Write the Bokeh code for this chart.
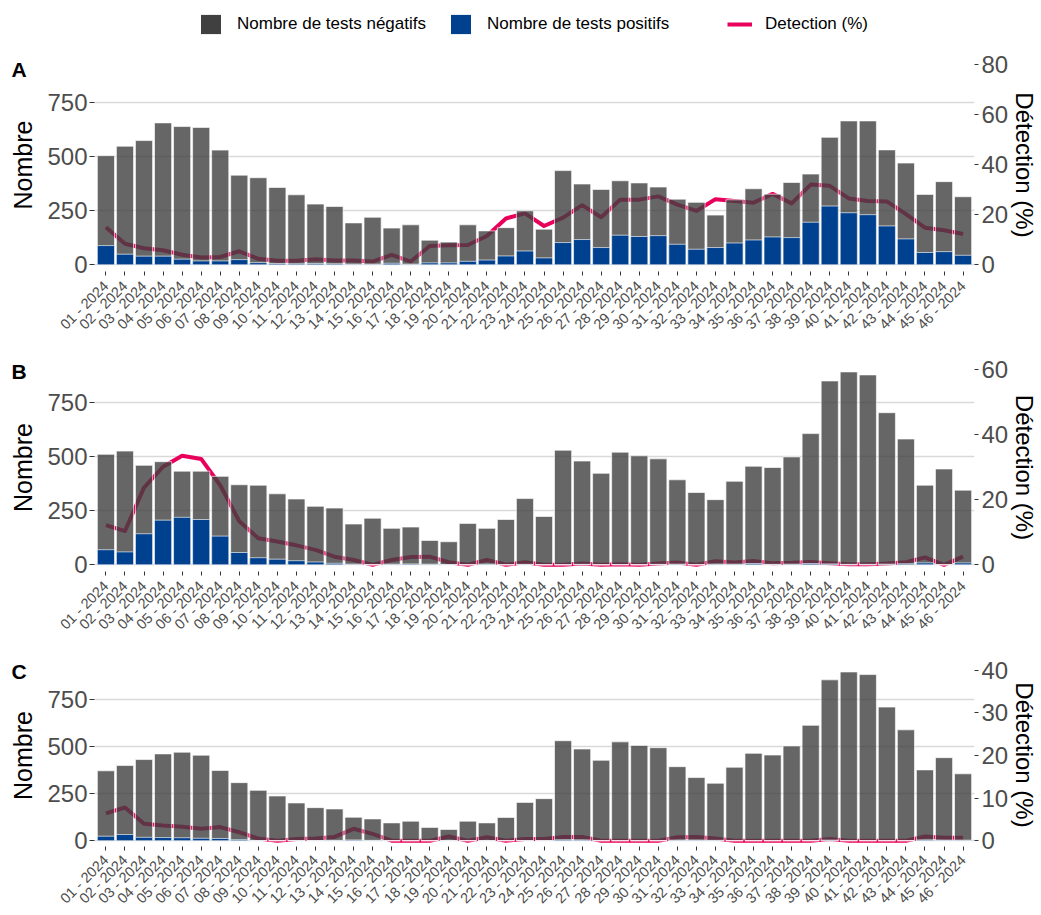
import math
from bokeh.plotting import figure
from bokeh.models import Range1d, LinearAxis, FixedTicker, Legend, LegendItem
from bokeh.core.properties import value
from bokeh.layouts import column, row
from bokeh.embed import file_html
from bokeh.resources import INLINE

# ---------------- data ----------------
weeks = [f"{i:02d} - 2024" for i in range(1, 47)]
x_pos = list(range(1, len(weeks) + 1))

count_ticks = [0, 250, 500, 750]
panel_letters = ["A", "B", "C"]
y_title = "Nombre"
y2_title = "Détection (%)"

# Panel A
neg_A = [505, 549, 575, 657, 640, 636, 531, 415, 403, 358, 324, 281, 270, 194, 220, 170,
         185, 114, 105, 185, 157, 172, 250, 165, 436, 374, 349, 389, 379, 360, 304, 289,
         230, 301, 352, 327, 381, 420, 590, 666, 666, 532, 471, 326, 385, 315]
pos_A = [89, 49, 40, 40, 26, 18, 18, 24, 10, 6, 5, 6, 5, 3, 3, 7,
         3, 9, 9, 16, 22, 41, 64, 32, 103, 117, 80, 137, 131, 135, 95, 72,
         80, 101, 115, 129, 126, 197, 272, 241, 232, 180, 120, 57, 61, 44]
det_A = [15.0, 8.4, 6.6, 5.8, 4.0, 2.9, 3.1, 5.4, 2.4, 1.6, 1.6, 2.2, 1.7, 1.7, 1.3, 4.0,
         1.3, 7.5, 7.8, 7.9, 11.5, 18.5, 20.5, 15.5, 18.8, 23.8, 19.0, 26.0, 26.0, 27.3, 24.0, 21.5,
         26.2, 25.5, 24.8, 28.3, 24.5, 32.0, 31.5, 26.5, 25.5, 25.3, 20.2, 14.8, 13.8, 12.3]
pct_ticks_A = [0, 20, 40, 60, 80]

# Panel B
neg_B = [512, 527, 461, 478, 434, 434, 410, 371, 369, 329, 305, 271, 263, 189, 216, 169,
         175, 113, 107, 192, 169, 210, 307, 224, 531, 481, 424, 522, 505, 491, 394, 335,
         302, 387, 457, 451, 500, 608, 852, 894, 880, 705, 583, 369, 444, 346]
pos_B = [70, 60, 144, 207, 220, 210, 133, 57, 33, 26, 19, 13, 7, 3, 0, 3,
         4, 3, 1, 0, 3, 0, 2, 0, 0, 2, 0, 1, 0, 2, 3, 0,
         3, 3, 6, 2, 3, 6, 4, 2, 2, 3, 5, 9, 0, 9]
det_B = [12.2, 10.4, 23.8, 30.2, 33.6, 32.6, 24.5, 13.4, 8.2, 7.2, 6.0, 4.6, 2.5, 1.5, 0.0, 1.5,
         2.4, 2.5, 0.8, 0.0, 1.5, 0.0, 0.8, 0.0, 0.0, 0.4, 0.0, 0.2, 0.0, 0.4, 0.7, 0.0,
         1.1, 0.7, 1.2, 0.5, 0.6, 0.9, 0.5, 0.2, 0.2, 0.4, 0.8, 2.3, 0.0, 2.5]
pct_ticks_B = [0, 20, 40, 60]

# Panel C
neg_C = [372, 400, 432, 462, 471, 455, 374, 309, 268, 238, 201, 176, 169, 125, 116, 95,
         104, 71, 60, 104, 95, 124, 204, 224, 532, 488, 428, 526, 507, 495, 394, 336,
         306, 391, 465, 456, 504, 614, 856, 898, 884, 711, 590, 377, 442, 356]
pos_C = [24, 33, 18, 17, 16, 13, 12, 6, 1, 0, 1, 1, 2, 4, 2, 0,
         0, 0, 1, 0, 1, 0, 1, 1, 5, 4, 0, 0, 0, 0, 3, 3,
         2, 0, 0, 0, 0, 0, 3, 0, 0, 0, 0, 4, 3, 3]
det_C = [6.4, 7.8, 4.0, 3.6, 3.3, 2.8, 3.2, 2.0, 0.5, 0.0, 0.4, 0.5, 0.9, 2.8, 1.6, 0.0,
         0.0, 0.0, 1.0, 0.0, 0.8, 0.0, 0.4, 0.4, 0.9, 0.9, 0.0, 0.0, 0.0, 0.0, 0.8, 0.9,
         0.5, 0.0, 0.0, 0.0, 0.0, 0.0, 0.4, 0.0, 0.0, 0.0, 0.0, 1.0, 0.7, 0.7]
pct_ticks_C = [0, 10, 20, 30, 40]

legend_labels = ["Nombre de tests négatifs", "Nombre de tests positifs", "Detection (%)"]

# ---------------- style / layout ----------------
FONT = "Liberation Sans"
GRAY = "#404040"
BLUE = "#00418F"
PINK = "#E8005A"
TICK_COL = "#4D4D4D"
TOTAL_W, TOTAL_H = 1041, 915
S = 38                    # left strip (panel letters + y titles)
W = TOTAL_W - S
BL, BR = 94 - S, 66

H_LEG = 48
geom = [(302, 10, 79), (300, 13, 79), (265, 13, 68)]   # height, top border, bottom border


def style_axis(ax, size="24px"):
    ax.axis_line_color = None
    ax.major_tick_line_color = "#333333"
    ax.major_tick_in = 0
    ax.major_tick_out = 5
    ax.minor_tick_line_color = None
    ax.major_label_text_font = FONT
    ax.major_label_text_font_size = size
    ax.major_label_text_color = TICK_COL
    ax.axis_label_text_font = FONT
    ax.axis_label_text_font_size = "24px"
    ax.axis_label_text_font_style = "normal"
    ax.axis_label_text_color = "black"


def make_panel(neg, pos, det, k, y0, y1, pct_ticks, g, xl_standoff):
    height, b_top, b_bottom = g
    p = figure(width=W, height=height, x_range=Range1d(0.4, 46.6), y_range=Range1d(y0, y1),
               output_backend="svg", toolbar_location=None, title=None,
               min_border_left=BL, min_border_right=BR,
               min_border_top=b_top, min_border_bottom=b_bottom)
    p.outline_line_color = None
    p.background_fill_color = "white"
    p.border_fill_color = "white"
    p.extra_y_ranges = {"pct": Range1d(y0 / k, y1 / k)}

    xa = p.xaxis[0]
    style_axis(xa, "14.5px")
    xa.ticker = FixedTicker(ticks=x_pos)
    xa.major_label_overrides = {i: w for i, w in zip(x_pos, weeks)}
    xa.major_label_orientation = math.pi / 4
    xa.major_tick_out = 4
    xa.major_label_standoff = xl_standoff

    ya = p.yaxis[0]
    style_axis(ya)
    ya.ticker = FixedTicker(ticks=count_ticks)
    ya.major_label_standoff = 2

    ra = LinearAxis(y_range_name="pct", ticker=FixedTicker(ticks=pct_ticks),
                    axis_label=y2_title)
    style_axis(ra)
    ra.major_tick_out = 4
    ra.major_label_standoff = 3
    ra.axis_label_standoff = 0
    p.add_layout(ra, "right")

    p.xgrid.visible = False
    p.ygrid.ticker = FixedTicker(ticks=count_ticks)
    p.ygrid.grid_line_color = "#D9D9D9"
    p.ygrid.grid_line_width = 1.5

    p.line(x_pos, det, y_range_name="pct", line_color=PINK, line_width=4, line_join="round")
    p.vbar(x=x_pos, top=neg, bottom=0, width=0.9, fill_color=GRAY, fill_alpha=0.8,
           line_color="white", line_width=0.8, line_alpha=0.8)
    p.vbar(x=x_pos, top=pos, bottom=0, width=0.9, fill_color=BLUE, fill_alpha=1.0,
           line_color="white", line_width=0.8, line_alpha=0.8)
    return p


pA = make_panel(neg_A, pos_A, det_A, 11.6, -31.0, 955.0, pct_ticks_A, geom[0], 8)
pB = make_panel(neg_B, pos_B, det_B, 15.05, -31.0, 933.0, pct_ticks_B, geom[1], 8)
pC = make_panel(neg_C, pos_C, det_C, 22.67, -30.7, 943.0, pct_ticks_C, geom[2], 7)

# ---------------- legend strip ----------------
leg = figure(width=W, height=H_LEG, x_range=Range1d(0, 1), y_range=Range1d(0, 1),
             output_backend="svg", toolbar_location=None, title=None,
             x_axis_location=None, y_axis_location=None,
             min_border_left=BL, min_border_right=BR, min_border_top=0, min_border_bottom=0)
leg.outline_line_color = None
leg.grid.visible = False
r1 = leg.vbar(x=[0.5], top=[0], bottom=[0], width=0, fill_color=GRAY, line_color=None)
r2 = leg.vbar(x=[0.5], top=[0], bottom=[0], width=0, fill_color=BLUE, line_color=None)
r3 = leg.line(x=[0.5, 0.5], y=[0, 0], line_color=PINK, line_width=4)

common = dict(orientation="horizontal", glyph_width=25, glyph_height=24, padding=0, margin=0,
              border_line_color=None, background_fill_alpha=0, label_text_font=FONT,
              label_text_font_size="17px", label_text_color="black", label_height=24)
lg1 = Legend(items=[LegendItem(label=legend_labels[0], renderers=[r1]),
                    LegendItem(label=legend_labels[1], renderers=[r2])],
             location=(104, 12), label_standoff=14, spacing=22, **common)
lg2 = Legend(items=[LegendItem(label=legend_labels[2], renderers=[r3])],
             location=(633, 12), label_standoff=13, **common)
leg.add_layout(lg1)
leg.add_layout(lg2)

# ---------------- left strip: panel letters and y-axis titles ----------------
# strip coordinates are pixels measured upward from the bottom of the page
tops = [H_LEG, H_LEG + geom[0][0], H_LEG + geom[0][0] + geom[1][0]]
frame_mid = [TOTAL_H - (t + g[1] + (g[0] - g[1] - g[2]) / 2) for t, g in zip(tops, geom)]
letter_mid = [TOTAL_H - (t + 21) for t in tops]

strip = figure(width=S, height=TOTAL_H, x_range=Range1d(0, S), y_range=Range1d(0, TOTAL_H),
               output_backend="svg", toolbar_location=None, title=None,
               x_axis_location=None, y_axis_location=None, min_border=0)
strip.outline_line_color = None
strip.grid.visible = False
strip.text(x=[11] * 3, y=letter_mid, text=panel_letters, text_font=value(FONT),
           text_font_size="21px", text_font_style="bold", text_color="black",
           text_align="left", text_baseline="middle")
strip.text(x=[22] * 3, y=frame_mid, text=[y_title] * 3, angle=math.pi / 2,
           text_font=value(FONT), text_font_size="25px", text_color="black",
           text_align="center", text_baseline="middle")

layout = row(strip, column(leg, pA, pB, pC))
open("out.html", "w").write(file_html(layout, INLINE))
